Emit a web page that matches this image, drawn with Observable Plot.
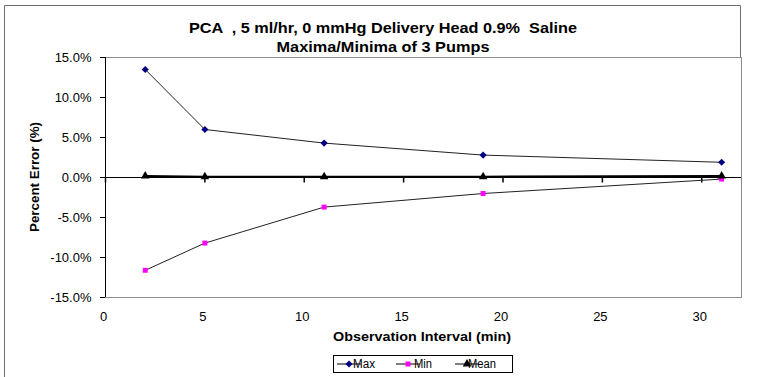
<!DOCTYPE html>
<html><head><meta charset="utf-8">
<script src="https://cdn.jsdelivr.net/npm/d3@7"></script>
<script src="https://cdn.jsdelivr.net/npm/@observablehq/plot@0.6"></script>
<style>
body{margin:0;background:#fff;}
#chart{position:relative;width:763px;height:377px;overflow:hidden;}
</style></head><body><div id="chart"></div>
<script>
const intervals = [2, 5, 11, 19, 31];
const maxErr = [13.5, 6.0, 4.3, 2.8, 1.9];
const minErr = [-11.6, -8.2, -3.7, -2.0, -0.2];
const meanErr = [0.2, 0.1, 0.1, 0.1, 0.2];
const seriesNames = ["Max", "Min", "Mean"];
const yTicks = [-15, -10, -5, 0, 5, 10, 15];
const xTicks = [0, 5, 10, 15, 20, 25, 30];
const titleLines = ["PCA  , 5 ml/hr, 0 mmHg Delivery Head 0.9%  Saline", "Maxima/Minima of 3 Pumps"];
const xTitle = "Observation Interval (min)";
const yTitle = "Percent Error (%)";

const seriesValues = [maxErr, minErr, meanErr];
const rows = seriesNames.flatMap((s, k) => intervals.map((x, i) => ({series: s, x, y: seriesValues[k][i]})));
const styleOf = {
  Max: {symbol: "diamond2", fill: "#000080", r: 3.2, line: "#222", lw: 1},
  Min: {symbol: "square", fill: "#ff00ff", r: 2.8, line: "#222", lw: 1},
  Mean: {symbol: "triangle", fill: "#000", r: 3.2, line: "#000", lw: 2}
};
const tickDown = {draw(ctx) { ctx.moveTo(0, 0); ctx.lineTo(0, 5); }};
const font = "'Liberation Sans', Arial, sans-serif";

const marks = [
  Plot.frame({stroke: "#8c8c8c"}),
  Plot.ruleY([0], {stroke: "#000"}),
  Plot.ruleX([0], {stroke: "#000"}),
  Plot.dot(xTicks, {x: d => d, y: 0, symbol: tickDown, stroke: "#000", fill: "none", r: 3}),
  Plot.axisY({ticks: yTicks, tickSize: 5, tickPadding: 9, tickFormat: d => d.toFixed(1) + "%", fontSize: 13, label: null, stroke: "#000"}),
  Plot.axisX({ticks: xTicks, tickSize: 0, tickPadding: 14, dx: -2, fontSize: 13, label: null})
];
for (const s of seriesNames) {
  const st = styleOf[s];
  const data = rows.filter(r => r.series === s);
  marks.push(Plot.line(data, {x: "x", y: "y", stroke: st.line, strokeWidth: st.lw}));
}
for (const s of seriesNames) {
  const st = styleOf[s];
  const data = rows.filter(r => r.series === s);
  marks.push(Plot.dot(data, {x: "x", y: "y", symbol: st.symbol, fill: st.fill, stroke: "none", r: st.r}));
}

const plot = Plot.plot({
  width: 763, height: 377,
  marginLeft: 105, marginRight: 22, marginTop: 57, marginBottom: 80,
  x: {domain: [0, 32]},
  y: {domain: [-15, 15]},
  style: {fontFamily: font, fontSize: "13px", background: "#fff", color: "#000"},
  marks
});
document.getElementById("chart").appendChild(plot);

const svg = d3.select(plot);
// outer chart border
svg.append("path").attr("d", "M4.5,400 V5.5 H740.5 V57").attr("fill", "none").attr("stroke", "#6e6e6e");

// titles
const tl = [{t: titleLines[0], y: 33, len: 388}, {t: titleLines[1], y: 52, len: 213}];
for (const d of tl) {
  svg.append("text").attr("x", 383).attr("y", d.y).attr("text-anchor", "middle")
    .attr("font-family", font).attr("font-weight", "bold").attr("font-size", 15)
    .attr("textLength", d.len).attr("lengthAdjust", "spacingAndGlyphs").text(d.t);
}
svg.append("text").attr("x", 422).attr("y", 341).attr("text-anchor", "middle")
  .attr("font-family", font).attr("font-weight", "bold").attr("font-size", 13.5)
  .attr("textLength", 178).attr("lengthAdjust", "spacingAndGlyphs").text(xTitle);
svg.append("text").attr("transform", "translate(39,177) rotate(-90)").attr("text-anchor", "middle")
  .attr("font-family", font).attr("font-weight", "bold").attr("font-size", 13.5)
  .attr("textLength", 110).attr("lengthAdjust", "spacingAndGlyphs").text(yTitle);

// legend
const lg = svg.append("g");
lg.append("rect").attr("x", 333.5).attr("y", 355.5).attr("width", 179).attr("height", 17)
  .attr("fill", "#fff").attr("stroke", "#000");
const textLens = {Max: 22, Min: 18, Mean: 28};
seriesNames.forEach((s, i) => {
  const st = styleOf[s];
  const x0 = 337 + i * 59, yc = 364;
  lg.append("line").attr("x1", x0).attr("x2", x0 + 24).attr("y1", yc).attr("y2", yc).attr("stroke", "#000");
  lg.append("path").attr("transform", `translate(${x0 + 12},${yc})`)
    .attr("d", d3.symbol(st.symbol === "diamond2" ? d3.symbolDiamond2 : st.symbol === "square" ? d3.symbolSquare : d3.symbolTriangle, st.r * st.r * Math.PI)())
    .attr("fill", st.fill);
  lg.append("text").attr("x", x0 + 27).attr("y", yc + 4).attr("font-family", font).attr("font-size", 12)
    .attr("textLength", textLens[s]).attr("lengthAdjust", "spacingAndGlyphs").text(s);
});
</script></body></html>
